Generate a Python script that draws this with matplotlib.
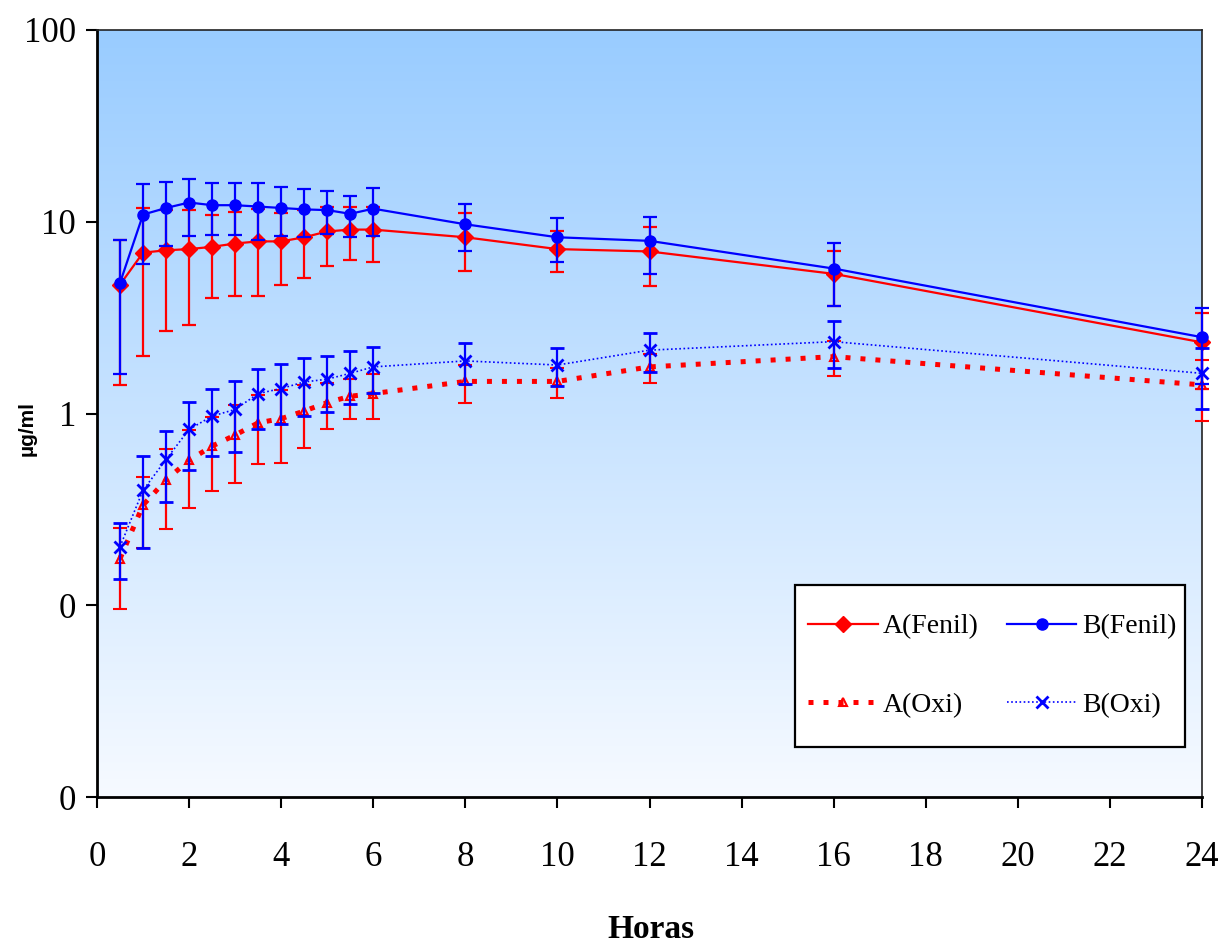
import numpy as np
import matplotlib
matplotlib.use("Agg")
import matplotlib.pyplot as plt
from matplotlib.colors import LinearSegmentedColormap
from matplotlib.patches import Rectangle

# ---- data ----
hours = [0.5, 1, 1.5, 2, 2.5, 3, 3.5, 4, 4.5, 5, 5.5, 6, 8, 10, 12, 16, 24]

a_fenil = [4.7, 6.9, 7.1, 7.2, 7.4, 7.7, 7.9, 7.9, 8.3, 8.9, 9.1, 9.1, 8.3, 7.2, 7.0, 5.35, 2.35]
a_fenil_sd = [3.3, 4.9, 4.4, 4.3, 3.4, 3.6, 3.8, 3.2, 3.2, 3.0, 2.8, 2.9, 2.75, 1.75, 2.4, 1.7, 1.0]

b_fenil = [4.8, 10.9, 11.8, 12.6, 12.2, 12.2, 12.0, 11.8, 11.6, 11.5, 11.0, 11.7, 9.7, 8.3, 7.95, 5.7, 2.5]
b_fenil_sd = [3.2, 4.9, 4.3, 4.2, 3.7, 3.7, 4.0, 3.4, 3.3, 2.9, 2.7, 3.3, 2.65, 2.1, 2.6, 2.05, 1.07]

a_oxi = [0.175, 0.333, 0.45, 0.57, 0.676, 0.772, 0.894, 0.94, 1.03, 1.14, 1.23, 1.27, 1.47, 1.47, 1.75, 1.98, 1.41]
a_oxi_sd = [0.079, 0.135, 0.2, 0.25, 0.28, 0.34, 0.35, 0.39, 0.37, 0.31, 0.29, 0.33, 0.33, 0.26, 0.3, 0.42, 0.5]

b_oxi = [0.202, 0.398, 0.576, 0.826, 0.969, 1.05, 1.27, 1.35, 1.46, 1.51, 1.62, 1.75, 1.88, 1.79, 2.14, 2.37, 1.62]
b_oxi_sd = [0.065, 0.2, 0.23, 0.32, 0.37, 0.42, 0.44, 0.47, 0.49, 0.49, 0.5, 0.47, 0.46, 0.4, 0.5, 0.65, 0.57]

y_ticks = [0.01, 0.1, 1, 10, 100]
y_tick_labels = ["0", "0", "1", "10", "100"]
x_ticks = list(range(0, 25, 2))

labels = ["A(Fenil)", "B(Fenil)", "A(Oxi)", "B(Oxi)"]

# ---- figure ----
plt.rcParams['font.family'] = ['Liberation Serif', 'DejaVu Serif']
fig = plt.figure(figsize=(12.2, 9.48), dpi=100)
ax = fig.add_axes([97/1220, 1-797/948, (1202-97)/1220, (797-30)/948])

# gradient background
cmap = LinearSegmentedColormap.from_list("bg", ["#F6FAFF", "#99CCFF"])
grad = np.linspace(0, 1, 256).reshape(-1, 1)
ax.imshow(grad, cmap=cmap, origin="lower", extent=[0, 1, 0, 1],
          transform=ax.transAxes, aspect="auto", zorder=0)

ax.set_yscale("log")
ax.set_ylim(0.01, 100)
ax.set_xlim(0, 24)

common = dict(elinewidth=1.6, capsize=5, capthick=1.6, clip_on=False)

h1 = ax.errorbar(hours, a_fenil, yerr=a_fenil_sd, color="#FF0000", lw=1.6,
                 marker="D", ms=8, zorder=3, **common)
h2 = ax.errorbar(hours, b_fenil, yerr=b_fenil_sd, color="#0000FF", lw=1.6,
                 marker="o", ms=8, zorder=4, **common)
h3 = ax.errorbar(hours, a_oxi, yerr=a_oxi_sd, color="#FF0000", lw=3.6,
                 ls=(0, (1, 2)), marker="^", ms=6, mfc="none", mew=1.5,
                 zorder=3, **common)
h4 = ax.errorbar(hours, b_oxi, yerr=b_oxi_sd, color="#0000FF", lw=1.2,
                 ls=(0, (1, 1.5)), marker="x", ms=9, mew=2, zorder=4, **common)
for h in (h1, h2, h3, h4):
    for c in h.lines[1]:
        c.set_clip_on(False)
    for c in h.lines[2]:
        c.set_clip_on(False)

ax.set_yticks(y_ticks)
ax.set_yticklabels(y_tick_labels)
ax.yaxis.set_minor_locator(matplotlib.ticker.NullLocator())
ax.set_xticks(x_ticks)
ax.set_xticklabels([str(v) for v in x_ticks])

ax.tick_params(axis="both", direction="out", length=8, width=1.5,
               labelsize=25)
ax.tick_params(axis="x", pad=24)
ax.tick_params(axis="y", pad=7)

for s in ["left", "bottom"]:
    ax.spines[s].set_linewidth(2)
    ax.spines[s].set_color("black")
for s in ["top", "right"]:
    ax.spines[s].set_linewidth(1.2)
    ax.spines[s].set_color("#222222")

fig.text(651/1220, 1-929/948, "Horas", fontsize=24, fontweight="bold",
         ha="center", va="center")
fig.text(27/1220, 1-428/948, "µg/ml", fontsize=15, fontweight="bold",
         family=["Liberation Sans", "DejaVu Sans"], rotation=90,
         ha="center", va="center")

# legend box (frame drawn separately for exact placement)
x0 = (795-97)/1105
x1 = (1185-97)/1105
y0 = (797-747)/767
y1 = (797-585)/767
ax.add_patch(Rectangle((x0, y0), x1 - x0, y1 - y0, transform=ax.transAxes,
                       facecolor="white", edgecolor="black", lw=1.6,
                       zorder=9, clip_on=False))

handles = [h1.lines[0], h3.lines[0], h2.lines[0], h4.lines[0]]
leg_labels = [labels[0], labels[2], labels[1], labels[3]]
leg = ax.legend(handles, leg_labels, ncol=2, loc="center",
                bbox_to_anchor=((x0 + x1) / 2 + 0.002, (y0 + y1) / 2),
                borderaxespad=0, fontsize=20, handlelength=2.5,
                handletextpad=0.2, labelspacing=1.9, borderpad=0.2,
                columnspacing=1.0, frameon=False)
leg.set_zorder(10)

fig.savefig("out.png", dpi=100)
